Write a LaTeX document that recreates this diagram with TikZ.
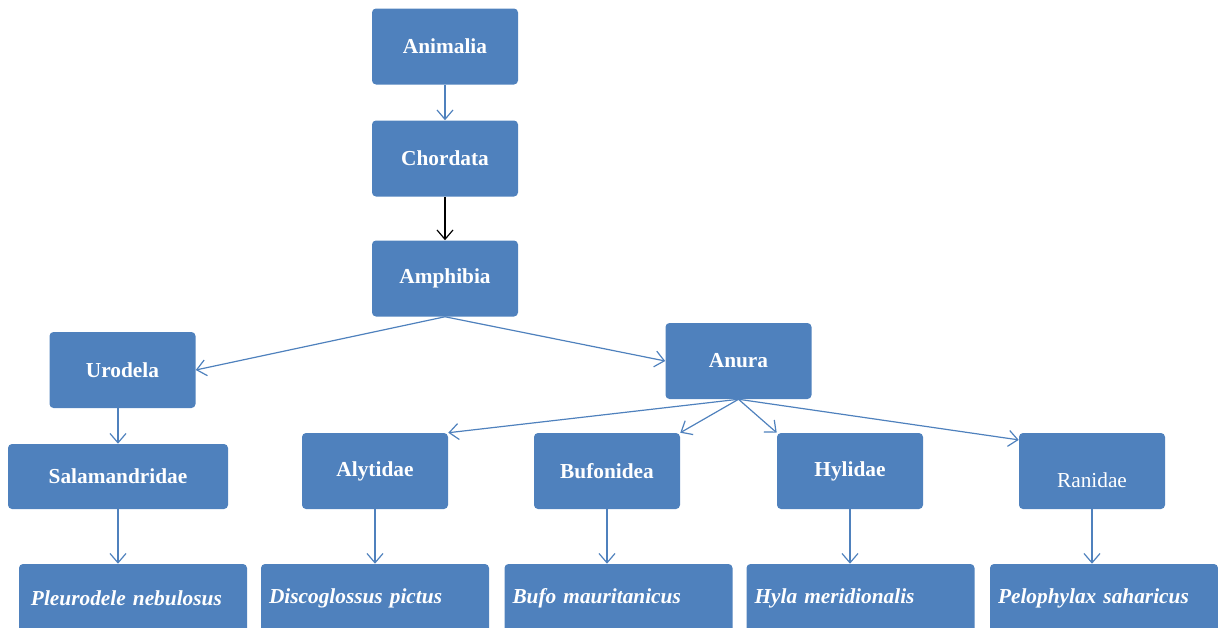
\documentclass[tikz,border=0pt]{standalone}
\usepackage{fontspec}
\setmainfont{Liberation Serif}
\usetikzlibrary{arrows.meta}
\definecolor{taxblue}{HTML}{4F81BD}

\begin{document}
\begin{tikzpicture}[x=0.75pt, y=-0.75pt, >={Straight Barb[length=7pt,width=12pt]},
    taxon/.style={fill=taxblue, rounded corners=3pt, text=white, inner sep=0pt, minimum width=109.5pt, minimum height=57pt, font=\fontsize{16}{19}\selectfont\bfseries},
    species/.style={fill=taxblue, rounded corners=3pt, text=white, inner xsep=6pt, inner ysep=0pt, text width=159pt, align=left, minimum height=51pt, font=\fontsize{16}{19}\selectfont\bfseries\itshape},
    link/.style={draw=taxblue, line width=0.9pt}]
    \useasboundingbox (0,0) rectangle (1218,628);
    % main line
    \node[taxon] (animalia) at (445,46.5) {Animalia};
    \node[taxon] (chordata) at (445,158.5) {Chordata};
    \node[taxon] (amphibia) at (445,278.5) {Amphibia};
    \node[taxon] (urodela) at (122.5,370) {Urodela};
    \node[taxon] (anura) at (738.5,361) {Anura};
    % families
    \node[taxon, minimum width=165pt, minimum height=48.75pt] (salamandridae) at (118,476.5) {Salamandridae};
    \node[taxon] (alytidae) at (375,471) {Alytidae};
    \node[taxon] (bufonidea) at (607,471) {Bufonidea};
    \node[taxon] (hylidae) at (850,471) {Hylidae};
    \node[taxon, font=\fontsize{16}{19}\selectfont, text height=25pt] (ranidae) at (1092,471) {Ranidae};
    % species
    \node[species, inner xsep=9pt, text width=153pt] (pleurodele) at (133,598) {Pleurodele nebulosus};
    \node[species] (discoglossus) at (375,598) {Discoglossus pictus};
    \node[species] (bufo) at (618.5,598) {Bufo mauritanicus};
    \node[species] (hyla) at (860.5,598) {Hyla meridionalis};
    \node[species] (pelophylax) at (1104,598) {Pelophylax saharicus};
    \draw[->, link] (animalia) -- (chordata);
    \draw[->, line width=0.9pt] (chordata) -- (amphibia);
    \draw[->, link] (amphibia.south) -- (urodela.east);
    \draw[->, link] (amphibia.south) -- (anura.west);
    \draw[->, link] (salamandridae.north |- urodela.south) -- (salamandridae.north);
    \draw[->, link] (salamandridae.south) -- (salamandridae.south |- pleurodele.north);
    \draw[->, link] (anura.south) -- (alytidae.north east);
    \draw[->, link] (anura.south) -- (bufonidea.north east);
    \draw[->, link] (anura.south) -- (hylidae.north west);
    \draw[->, link] (anura.south) -- (ranidae.157);
    \draw[->, link] (alytidae) -- (discoglossus);
    \draw[->, link] (bufonidea.south) -- (bufonidea.south |- bufo.north);
    \draw[->, link] (hylidae.south) -- (hylidae.south |- hyla.north);
    \draw[->, link] (ranidae.south) -- (ranidae.south |- pelophylax.north);
\end{tikzpicture}
\end{document}
